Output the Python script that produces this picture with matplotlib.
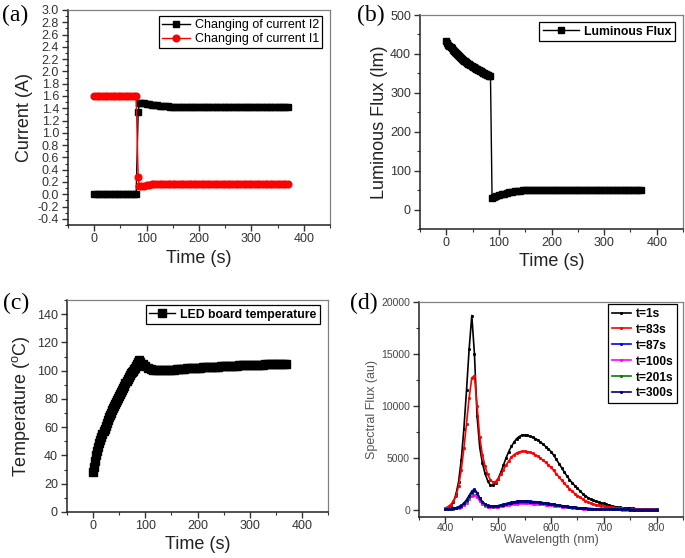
import numpy as np
import matplotlib
matplotlib.use('Agg')
import matplotlib.pyplot as plt
from matplotlib.ticker import MultipleLocator, FormatStrFormatter

plt.rcParams['font.family'] = ['Liberation Sans', 'DejaVu Sans']
plt.rcParams['axes.unicode_minus'] = False
plt.rcParams['mathtext.fontset'] = 'custom'
plt.rcParams['mathtext.rm'] = 'Liberation Sans'

# ---- (a) currents ----
time_a = list(range(0, 85, 5)) + [84, 86] + list(range(90, 371, 5))
current_i2 = ([0.0] * 17 + [1.34, 1.48] +
              [1.48, 1.48, 1.47, 1.47, 1.46, 1.45, 1.45, 1.44, 1.44, 1.43, 1.43, 1.42] +
              [1.42] * 45)
current_i1 = ([1.6] * 17 + [0.28, 0.14] +
              [0.14, 0.14, 0.15, 0.15, 0.16, 0.16, 0.16, 0.17, 0.17] +
              [0.17] * 48)

# ---- (b) luminous flux ----
time_b = list(range(0, 85, 2)) + [87] + list(range(90, 371, 5))
flux = ([432, 428, 424, 420, 417, 414, 411, 408, 405, 402,
         399, 397, 394, 392, 389, 387, 385, 383, 381, 379,
         377, 375, 373, 371, 369, 367, 366, 364, 362, 361,
         359, 358, 356, 355, 353, 352, 350, 349, 348, 346,
         345, 344, 342] +
        [30] +
        [32, 34, 37, 39, 41, 43, 45, 46, 47, 48, 48, 49] +
        [49] * 45)

# ---- (c) LED board temperature ----
time_c = list(range(0, 89, 2)) + list(range(90, 371, 5))
temperature = ([28, 32, 36, 40, 43, 46, 49, 51, 53, 55,
                57, 59, 61, 63, 65, 67, 68.5, 70, 72, 73.5,
                75, 76.5, 78, 79.5, 81, 82, 83.5, 85, 86.5, 88,
                89.5, 91, 92.5, 94, 95.5, 97, 98, 99, 100, 101,
                102, 103.5, 104.5, 106, 107.5] +
               [106, 104.5, 103, 102, 101.3, 100.8, 100.5, 100.4, 100.4, 100.5,
                100.5, 100.6, 100.7, 100.8, 101, 101.1, 101.3, 101.4, 101.6, 101.7,
                101.9, 102, 102.1, 102.2, 102.3, 102.4, 102.5, 102.6, 102.7, 102.8,
                102.9, 103, 103.1, 103.2, 103.3, 103.4, 103.5, 103.6, 103.7, 103.8,
                103.9, 104, 104, 104.1, 104.2, 104.2, 104.3, 104.3, 104.4, 104.4,
                104.5, 104.5, 104.5, 104.6, 104.6, 104.6, 104.7])

# ---- (d) spectra ----
wavelength = list(range(400, 801, 5))
spec_labels = ['t=1s', 't=83s', 't=87s', 't=100s', 't=201s', 't=300s']
spec_colors = ['#000000', '#ff0000', '#0000ff', '#ff00ff', '#008000', '#000080']
spec_1s = [100, 200, 400, 700, 1500, 2700, 4800, 7800, 11500, 15500,
           18700, 15000, 9000, 6000, 4500, 3500, 2800, 2350, 2350, 2600,
           3000, 3600, 4300, 5000, 5600, 6100, 6500, 6850, 7050, 7180,
           7200, 7150, 7080, 6980, 6850, 6700, 6520, 6300, 6080, 5850,
           5600, 5250, 4850, 4450, 4050, 3650, 3250, 2900, 2600, 2320,
           2080, 1800, 1550, 1350, 1170, 1020, 900, 800, 720, 660,
           600, 520, 440, 370, 310, 260, 220, 190, 170, 155,
           140, 120, 100, 85, 70, 60, 50, 45, 40, 35,
           30]
spec_83s = [150, 300, 500, 800, 1300, 2300, 3800, 5900, 8300, 10800,
            12700, 12900, 10000, 7000, 5300, 4200, 3400, 2900, 2650, 2700,
            3000, 3400, 3850, 4300, 4700, 5050, 5300, 5470, 5570, 5620,
            5630, 5600, 5530, 5430, 5300, 5140, 4960, 4760, 4550, 4320,
            4080, 3780, 3470, 3160, 2860, 2560, 2280, 2020, 1780, 1560,
            1370, 1180, 1010, 870, 750, 640, 550, 480, 420, 380,
            340, 300, 260, 230, 200, 175, 150, 130, 115, 100,
            90, 80, 70, 60, 50, 45, 40, 35, 30, 25,
            20]
spec_87s = [30, 50, 85, 130, 190, 280, 420, 630, 950, 1370,
            1780, 1990, 1650, 1140, 780, 540, 410, 350, 330, 350,
            390, 450, 520, 590, 650, 710, 760, 800, 820, 830,
            830, 820, 810, 790, 770, 740, 710, 680, 640, 600,
            560, 520, 480, 440, 400, 360, 325, 290, 255, 225,
            200, 175, 155, 135, 118, 103, 92, 82, 72, 62,
            56, 51, 46, 41, 37, 34, 31, 29, 27, 25,
            23, 21, 20, 19, 18, 17, 16, 15, 14, 13,
            12]
spec_100s = [25, 40, 65, 95, 140, 210, 310, 460, 690, 990,
             1300, 1450, 1220, 840, 570, 400, 310, 260, 245, 260,
             290, 340, 385, 435, 480, 525, 565, 595, 610, 620,
             620, 615, 605, 590, 575, 550, 530, 505, 480, 455,
             425, 395, 365, 335, 305, 275, 250, 220, 195, 172,
             152, 133, 117, 102, 90, 79, 70, 62, 55, 48,
             43, 39, 35, 32, 29, 26, 24, 22, 20, 19,
             18, 17, 16, 15, 14, 13, 12, 11, 10, 10,
             10]
spec_201s = [30, 50, 80, 115, 175, 260, 390, 580, 870, 1250,
             1640, 1850, 1550, 1060, 720, 500, 390, 330, 310, 330,
             370, 430, 490, 555, 615, 670, 720, 760, 780, 790,
             790, 780, 770, 750, 730, 700, 670, 640, 610, 570,
             530, 490, 455, 415, 380, 340, 310, 270, 240, 215,
             190, 165, 145, 128, 112, 98, 88, 78, 68, 58,
             53, 48, 43, 39, 35, 32, 29, 27, 25, 23,
             21, 19, 18, 17, 16, 15, 14, 13, 12, 11,
             11]
spec_300s = [30, 50, 80, 120, 180, 270, 400, 600, 900, 1300,
             1700, 1920, 1600, 1100, 750, 520, 400, 340, 320, 340,
             380, 440, 500, 570, 630, 690, 740, 780, 800, 810,
             810, 800, 790, 770, 750, 720, 690, 660, 630, 590,
             550, 510, 470, 430, 390, 350, 320, 280, 250, 220,
             195, 170, 150, 130, 115, 100, 90, 80, 70, 60,
             55, 50, 45, 40, 36, 33, 30, 28, 26, 24,
             22, 20, 19, 18, 17, 16, 15, 14, 13, 12,
             12]
spectra = [spec_1s, spec_83s, spec_87s, spec_100s, spec_201s, spec_300s]

W, H = 685, 558


def box(left, top, right, bottom):
    return [left / W, 1 - bottom / H, (right - left) / W, (bottom - top) / H]


def style(ax, xmaj, xmin, ymaj, ymin, tick_size, tick_color, xpad=2.5):
    ax.xaxis.set_major_locator(MultipleLocator(xmaj))
    ax.xaxis.set_minor_locator(MultipleLocator(xmin))
    ax.yaxis.set_major_locator(MultipleLocator(ymaj))
    ax.yaxis.set_minor_locator(MultipleLocator(ymin))
    ax.tick_params(which='both', direction='out', top=False, right=False,
                   colors='#333333', labelcolor=tick_color, labelsize=tick_size)
    ax.tick_params(which='major', length=4, width=1.0)
    ax.tick_params(which='minor', length=2.5, width=0.8)
    ax.tick_params(axis='x', which='major', pad=xpad)
    ax.tick_params(axis='y', which='major', pad=2.5)
    for s in ['left', 'bottom']:
        ax.spines[s].set_color('#222222')
        ax.spines[s].set_linewidth(1.1)
    for s in ['top', 'right']:
        ax.spines[s].set_color('#808080')
        ax.spines[s].set_linewidth(0.9)


def legend(ax, x, y, size, weight, **kw):
    leg = ax.legend(loc='upper right', bbox_to_anchor=(x, y), fancybox=False,
                    edgecolor='black', framealpha=1, numpoints=1, borderaxespad=0,
                    prop={'size': size, 'weight': weight}, **kw)
    leg.get_frame().set_linewidth(0.9)
    return leg


fig = plt.figure(figsize=(W / 100, H / 100), dpi=100)

# (a)
ax = fig.add_axes(box(68, 10, 330, 225))
ax.plot(time_a, current_i2, color='black', marker='s', markersize=4.5, linewidth=1.0,
        label='Changing of current I2')
ax.plot(time_a, current_i1, color='#ff0000', marker='o', markersize=4.8, linewidth=1.0,
        label='Changing of current I1')
ax.set_xlim(-50, 450)
ax.set_ylim(-0.5, 3.0)
style(ax, 100, 50, 0.2, 0.1, 9, '#333333', xpad=1.5)
ax.yaxis.set_major_formatter(FormatStrFormatter('%.1f'))
ax.set_xlabel('Time (s)', fontsize=13, color='#222222')
ax.set_ylabel('Current (A)', fontsize=13, color='#222222')
ax.xaxis.set_label_coords(0.5, -0.115)
ax.yaxis.set_label_coords(-0.135, 0.5)
legend(ax, 0.969, 0.972, 9, 'normal', handlelength=2.2, handletextpad=0.4,
       labelspacing=0.15, borderpad=0.25)

# (b)
ax = fig.add_axes(box(420, 15, 683, 229))
ax.plot(time_b, flux, color='black', marker='s', markersize=4.5, linewidth=1.0,
        label='Luminous Flux')
ax.set_xlim(-50, 450)
ax.set_ylim(-50, 500)
style(ax, 100, 50, 100, 50, 9, '#333333', xpad=1.5)
ax.set_xlabel('Time (s)', fontsize=13, color='#222222')
ax.set_ylabel('Luminous Flux (lm)', fontsize=13, color='#222222')
ax.xaxis.set_label_coords(0.5, -0.112)
ax.yaxis.set_label_coords(-0.122, 0.5)
legend(ax, 0.970, 0.967, 8.8, 'bold', handlelength=3.0, handletextpad=0.4,
       borderpad=0.3)

# (c)
ax = fig.add_axes(box(67, 300, 328, 512))
ax.plot(time_c, temperature, color='black', marker='s', markersize=5.5, linewidth=1.0,
        label='LED board temperature')
ax.set_xlim(-50, 450)
ax.set_ylim(0, 150)
style(ax, 100, 50, 20, 10, 9, '#333333', xpad=1.5)
ax.set_xlabel('Time (s)', fontsize=13, color='#222222')
ax.set_ylabel('Temperature ($^{\\rm o}$C)', fontsize=13, color='#222222')
ax.xaxis.set_label_coords(0.5, -0.113)
ax.yaxis.set_label_coords(-0.134, 0.5)
legend(ax, 0.969, 0.976, 8.8, 'bold', handlelength=2.1, handletextpad=0.4,
       borderpad=0.3)

# (d)
ax = fig.add_axes(box(419, 302, 683, 517))
for vals, lab, col in zip(spectra, spec_labels, spec_colors):
    ax.plot(wavelength, vals, color=col, marker='s', markersize=1.1, linewidth=1.2,
            label=lab)
ax.set_xlim(350, 850)
ax.set_ylim(-700, 20000)
style(ax, 100, 50, 5000, 2500, 7.5, '#444444', xpad=0.5)
ax.set_xlabel('Wavelength (nm)', fontsize=9, color='#555555')
ax.set_ylabel('Spectral Flux (au)', fontsize=9, color='#555555')
ax.xaxis.set_label_coords(0.5, -0.08)
ax.yaxis.set_label_coords(-0.155, 0.5)
legend(ax, 0.977, 0.99, 8.6, 'bold', handlelength=1.6, handletextpad=0.4,
       labelspacing=0.33, borderpad=0.3)

# panel letters
for txt, x, y in [('(a)', 2, 15), ('(b)', 357, 15), ('(c)', 3, 303), ('(d)', 350, 303)]:
    fig.text(x / W, 1 - y / H, txt, fontsize=17, va='center', ha='left',
             family=['Liberation Serif', 'DejaVu Serif'])

fig.savefig('out.png', dpi=100)
